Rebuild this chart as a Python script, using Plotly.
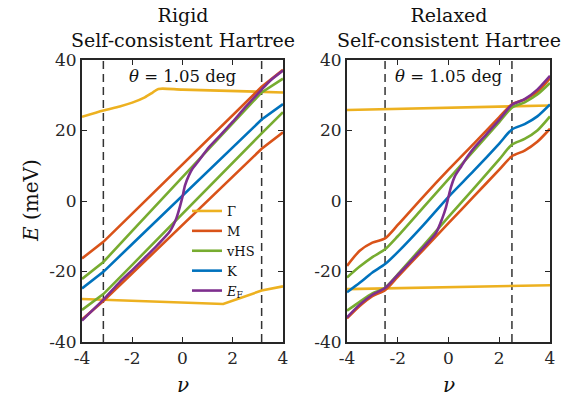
import plotly.graph_objects as go

# ---------------- data: rigid panel ----------------
nu_rigid = [-4, -3.15, -2, -1, 0, 1, 2, 3.15, 4]
rigid_M_up = [-16.3, -11.6, -3.6, 3.4, 10.4, 17.4, 24.4, 32.4, 37.2]
rigid_M_lo = [-33.6, -28.4, -20.5, -13.7, -6.8, 0.1, 7.0, 14.8, 19.5]
rigid_vHS_up = [-22.1, -17.3, -8.5, -0.9, 6.7, 14.3, 22.0, 30.8, 34.7]
rigid_vHS_lo = [-30.9, -26.4, -18.1, -10.8, -3.6, 3.6, 10.9, 19.2, 25.2]
rigid_K = [-24.8, -20.1, -12.2, -5.4, 1.5, 8.3, 15.2, 23.1, 27.5]

nu_rigid_G_up = [-4, -3.15, -2.5, -2, -1.5, -1.2, -0.96, 0, 4]
rigid_G_up = [23.9, 25.7, 26.8, 27.9, 29.4, 30.7, 31.8, 31.6, 30.8]
nu_rigid_G_lo = [-4, -3.15, 1.62, 3.15, 4]
rigid_G_lo = [-27.8, -28.0, -29.2, -25.4, -24.2]

nu_rigid_EF = [-4, -3.15, -2.5, -2, -1.5, -1, -0.5, -0.25, -0.1, 0, 0.1, 0.25,
               0.4, 0.6, 0.8, 1, 1.5, 2, 2.5, 3.15, 3.5, 4]
rigid_EF = [-33.9, -28.0, -23.0, -19.6, -16.1, -12.5, -8.6, -5.0, -1.5, 1.2, 4.4, 7.2,
            9.2, 11.0, 12.9, 14.8, 18.6, 22.5, 26.6, 31.6, 34.2, 37.0]

# ---------------- data: relaxed panel ----------------
nu_relax = [-4, -3.5, -3, -2.5, -2, -1, 0, 1, 2, 2.5, 3, 3.5, 4]
relax_M_up = [-18.4, -14.1, -11.8, -10.6, -6.8, 1.2, 8.9, 16.3, 23.8, 27.4, 28.8, 30.9, 34.8]
relax_M_lo = [-33.3, -29.8, -27.0, -25.3, -21.5, -13.9, -6.3, 1.3, 8.9, 12.7, 14.3, 16.8, 20.5]
relax_vHS_up = [-21.7, -18.6, -15.9, -13.7, -10.0, -1.9, 6.2, 14.3, 22.4, 26.5, 28.0, 30.2, 33.5]
relax_vHS_lo = [-31.1, -28.6, -26.2, -24.6, -20.8, -12.7, -4.5, 3.6, 11.8, 16.0, 17.6, 20.0, 24.0]
relax_K = [-25.9, -23.2, -20.3, -17.9, -14.5, -6.9, 1.2, 8.6, 16.3, 20.3, 21.8, 24.0, 27.4]

nu_relax_G = [-4, 4]
relax_G_up = [25.8, 27.1]
relax_G_lo = [-25.0, -23.9]

nu_relax_EF = [-4, -3.5, -3, -2.5, -2, -1.5, -1, -0.5, -0.25, -0.1, 0, 0.1, 0.25,
               0.5, 0.75, 1, 1.5, 2, 2.5, 3, 3.5, 4]
relax_EF = [-33.0, -29.4, -26.6, -24.7, -21.0, -17.2, -13.3, -9.2, -5.0, -1.8, 1.2, 4.0, 7.0,
            9.8, 12.6, 15.0, 19.0, 23.0, 27.3, 28.9, 31.6, 35.5]

# dashed guide positions
rigid_guides = [-3.15, 3.15]
relax_guides = [-2.5, 2.5]

panel_titles = ["Rigid<br>Self-consistent Hartree", "Relaxed<br>Self-consistent Hartree"]
angle_label = "<i>θ</i> = 1.05 deg"
x_ticks = [-4, -2, 0, 2, 4]
x_ticktext = ["-4", "-2", "0", "2", "4"]
y_ticks = [-40, -20, 0, 20, 40]
y_ticktext = ["-40", "-20", "0", "20", "40"]

# ---------------- styling ----------------
C_G = "#EDB120"
C_M = "#D95319"
C_VHS = "#77AC30"
C_K = "#0072BD"
C_EF = "#7E2F8E"
LW = 2.6
FONT = "DejaVu Serif"
AX = "#262626"
TXT = "#111111"

fig = go.Figure()


def add(x, y, color, name, xa, ya, show, shape="linear"):
    fig.add_trace(go.Scatter(
        x=x, y=y, mode="lines", name=name, legendgroup=name, showlegend=show,
        line=dict(color=color, width=LW, shape=shape, smoothing=0.7),
        xaxis=xa, yaxis=ya, hoverinfo="skip"))


# rigid panel
add(nu_rigid_G_up, rigid_G_up, C_G, "Γ", "x", "y", True, "spline")
add(nu_rigid_G_lo, rigid_G_lo, C_G, "Γ", "x", "y", False)
add(nu_rigid, rigid_M_up, C_M, "M", "x", "y", True)
add(nu_rigid, rigid_M_lo, C_M, "M", "x", "y", False)
add(nu_rigid, rigid_vHS_up, C_VHS, "vHS", "x", "y", True)
add(nu_rigid, rigid_vHS_lo, C_VHS, "vHS", "x", "y", False)
add(nu_rigid, rigid_K, C_K, "K", "x", "y", True)
add(nu_rigid_EF, rigid_EF, C_EF, "<i>E</i><sub>F</sub>", "x", "y", True, "spline")

# relaxed panel
add(nu_relax_G, relax_G_up, C_G, "Γ", "x2", "y2", False)
add(nu_relax_G, relax_G_lo, C_G, "Γ", "x2", "y2", False)
add(nu_relax, relax_M_up, C_M, "M", "x2", "y2", False, "spline")
add(nu_relax, relax_M_lo, C_M, "M", "x2", "y2", False, "spline")
add(nu_relax, relax_vHS_up, C_VHS, "vHS", "x2", "y2", False, "spline")
add(nu_relax, relax_vHS_lo, C_VHS, "vHS", "x2", "y2", False, "spline")
add(nu_relax, relax_K, C_K, "K", "x2", "y2", False, "spline")
add(nu_relax_EF, relax_EF, C_EF, "<i>E</i><sub>F</sub>", "x2", "y2", False, "spline")

# dashed guides
shapes = []
for xr, yr, guides in (("x", "y", rigid_guides), ("x2", "y2", relax_guides)):
    for xv in guides:
        shapes.append(dict(type="line", xref=xr, yref=yr, x0=xv, x1=xv, y0=-40, y1=40,
                           line=dict(color="#333333", width=1.5, dash="8px,5px"),
                           layer="below"))

W, H = 575, 403
dom_y = [(H - 342) / H, (H - 60) / H]
dom_x1 = [82 / W, 283 / W]
dom_x2 = [347 / W, 550 / W]

axis_common = dict(
    showgrid=False, zeroline=False, showline=True, linecolor=AX, linewidth=2,
    mirror="allticks", ticks="inside", ticklen=5, tickwidth=1.3, tickcolor=AX,
    tickfont=dict(family=FONT, size=17, color=AX), automargin=False,
)

xax = dict(axis_common, range=[-4, 4], tickvals=x_ticks, ticktext=x_ticktext)
yax = dict(axis_common, range=[-40, 40], tickvals=y_ticks, ticktext=y_ticktext)


def paper_text(text, x, y, size=18, angle=0, ya="middle"):
    return dict(text=text, x=x / W, y=1 - y / H, xref="paper", yref="paper",
                xanchor="center", yanchor=ya, textangle=angle, showarrow=False,
                font=dict(family=FONT, size=size, color=TXT))


annotations = [
    paper_text(panel_titles[0], (82 + 283) / 2, 2, size=19, ya="top"),
    paper_text(panel_titles[1], (347 + 550) / 2, 2, size=19, ya="top"),
    paper_text(angle_label, (82 + 283) / 2, 76, size=16.5),
    paper_text(angle_label, (347 + 550) / 2, 76, size=16.5),
    paper_text("<i>E</i> (meV)", 31, 201, size=20, angle=-90),
    paper_text("<i>ν</i>", (82 + 283) / 2, 385, size=20),
    paper_text("<i>ν</i>", (347 + 550) / 2, 385, size=20),
]

fig.update_layout(
    width=W, height=H, margin=dict(l=0, r=0, t=0, b=0, autoexpand=False),
    paper_bgcolor="white", plot_bgcolor="white",
    xaxis=dict(xax, domain=dom_x1, anchor="y"),
    yaxis=dict(yax, domain=dom_y, anchor="x"),
    xaxis2=dict(xax, domain=dom_x2, anchor="y2"),
    yaxis2=dict(yax, domain=dom_y, anchor="x2"),
    shapes=shapes, annotations=annotations,
    showlegend=True,
    legend=dict(x=187 / W, y=1 - 196 / H, xanchor="left", yanchor="top",
                bgcolor="rgba(0,0,0,0)", borderwidth=0, itemwidth=30,
                tracegroupgap=0, font=dict(family=FONT, size=13, color=TXT)),
)

fig.write_html("out.html")
